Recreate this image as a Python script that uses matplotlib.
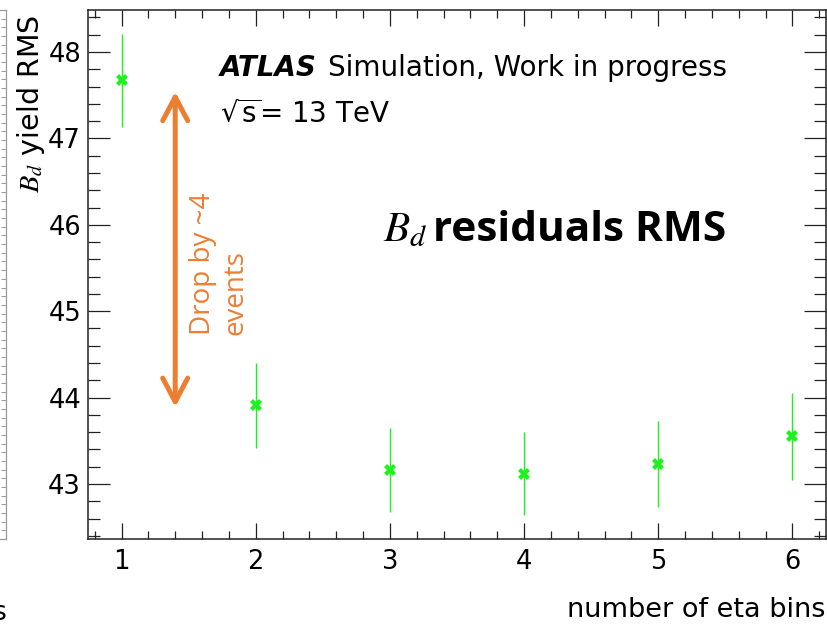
import numpy as np
import matplotlib.pyplot as plt
from matplotlib.ticker import MultipleLocator

# --- Values ---
n_eta_bins = [1, 2, 3, 4, 5, 6]
bd_yield_rms = [47.67, 43.91, 43.16, 43.12, 43.23, 43.55]
bd_yield_rms_err = [0.54, 0.49, 0.485, 0.48, 0.495, 0.50]

# annotation arrow (drawn in data units)
drop_x = 1.4
drop_top = 47.54
drop_bottom = 43.89

GREEN = '#1ef21e'
ORANGE = '#ED7D31'

plt.rcParams['font.family'] = ['DejaVu Sans']

fig = plt.figure(figsize=(8.28, 6.29), dpi=100)
ax = fig.add_axes([88 / 828, 90 / 629, 738 / 828, 529 / 629])

ax.errorbar(n_eta_bins, bd_yield_rms, yerr=bd_yield_rms_err, fmt='X',
            color=GREEN, ms=8.5, mew=0, elinewidth=1.0, capsize=0, zorder=3)

ax.set_xlim(0.75, 6.25)
ax.set_ylim(42.363, 48.486)

# --- ROOT-style frame: ticks inside on all four sides ---
ax.xaxis.set_major_locator(MultipleLocator(1))
ax.xaxis.set_minor_locator(MultipleLocator(0.2))
ax.yaxis.set_major_locator(MultipleLocator(1))
ax.yaxis.set_minor_locator(MultipleLocator(0.2))
ax.tick_params(which='both', direction='in', top=True, right=True,
               color='#222222', width=0.9)
ax.tick_params(axis='x', which='major', length=11.5, pad=7, labelsize=18.5)
ax.tick_params(axis='x', which='minor', length=5.8)
ax.tick_params(axis='y', which='major', length=15.8, pad=5, labelsize=18.5)
ax.tick_params(axis='y', which='minor', length=8.6)
for sp in ax.spines.values():
    sp.set_linewidth(1.1)
    sp.set_color('#222222')

# axis titles
fig.text(826 / 828, 1 - 617 / 629, 'number of eta bins', ha='right',
         va='baseline', fontsize=19.5)
fig.text(31 / 828, 1 - 15 / 629, r'$B_d$ yield RMS', rotation=90,
         ha='center', va='top', fontsize=20.5, math_fontfamily='stix')

# --- ATLAS label ---
atlas = ax.text(0.1789, 0.876, 'ATLAS', transform=ax.transAxes,
                fontsize=20, fontweight='bold', fontstyle='italic',
                va='baseline')
ax.annotate('Simulation, Work in progress', xy=(1, 0), xycoords=atlas,
            xytext=(8, 0), textcoords='offset points', va='bottom',
            ha='left', fontsize=20)
ax.text(0.1789, 0.789, r'$\sqrt{\mathrm{s}}$= 13 TeV', transform=ax.transAxes,
        fontsize=20, va='baseline', math_fontfamily='dejavusans')

# --- overlay annotations ---
ax.text(0.3997, 0.563, r'$B_d$', transform=ax.transAxes, fontsize=31,
        va='baseline', math_fontfamily='stix')
ax.text(0.4675, 0.563, 'residuals RMS', transform=ax.transAxes,
        fontsize=30.5, fontweight='bold', family='Open Sans', va='baseline')

ax.annotate('', xy=(drop_x, drop_top), xytext=(drop_x, drop_bottom),
            arrowprops=dict(arrowstyle='<->, head_length=0.85, head_width=0.45',
                            color=ORANGE, lw=3.6, mutation_scale=20,
                            shrinkA=0, shrinkB=0, capstyle='round',
                            joinstyle='round'))
ax.text(0.1775, 0.3856, 'Drop by ~4\nevents', transform=ax.transAxes,
        rotation=90, color=ORANGE, family='Open Sans', fontsize=20,
        ha='center', va='bottom', multialignment='left', linespacing=1.2)

# --- edge of the neighbouring panel on the left ---
lax = fig.add_axes([0, 90 / 629, 6 / 828, 529 / 629])
lax.set_xlim(0, 1)
lax.set_ylim(0, 61)
lax.set_xticks([])
lax.yaxis.tick_right()
lax.set_yticks(np.arange(0, 62))
lax.tick_params(axis='y', direction='in', length=3.5, width=0.7,
                color='#999999', labelright=False)
lax.spines['left'].set_visible(False)
for side in ('right', 'top', 'bottom'):
    lax.spines[side].set_color('#999999')
    lax.spines[side].set_linewidth(0.9)
fig.text(6 / 828, 1 - 620 / 629, 's', ha='right', va='baseline', fontsize=19)

fig.savefig('out.png', dpi=100)
